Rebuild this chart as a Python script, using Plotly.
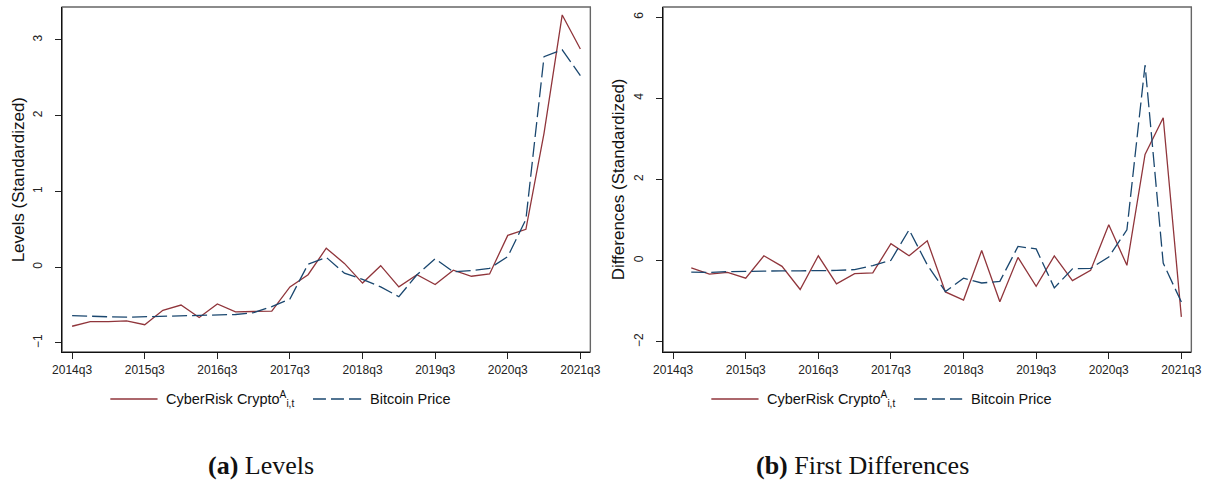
import plotly.graph_objects as go

# Quarterly sample
quarters = ["2014q3", "2014q4", "2015q1", "2015q2", "2015q3", "2015q4", "2016q1", "2016q2",
            "2016q3", "2016q4", "2017q1", "2017q2", "2017q3", "2017q4", "2018q1", "2018q2",
            "2018q3", "2018q4", "2019q1", "2019q2", "2019q3", "2019q4", "2020q1", "2020q2",
            "2020q3", "2020q4", "2021q1", "2021q2", "2021q3"]
tick_quarters = ["2014q3", "2015q3", "2016q3", "2017q3", "2018q3", "2019q3", "2020q3", "2021q3"]

# Standardized levels
levels_cyber = [-0.78, -0.72, -0.72, -0.71, -0.76, -0.57, -0.50, -0.665, -0.485, -0.59, -0.585,
                -0.58, -0.26, -0.10, 0.25, 0.05, -0.21, 0.02, -0.26, -0.10, -0.23, -0.04,
                -0.12, -0.09, 0.42, 0.50, 1.77, 3.33, 2.88]
levels_btc = [-0.64, -0.65, -0.655, -0.66, -0.655, -0.655, -0.65, -0.645, -0.635, -0.625, -0.60,
              -0.52, -0.42, 0.04, 0.13, -0.08, -0.16, -0.26, -0.39, -0.10, 0.11, -0.06,
              -0.045, -0.015, 0.14, 0.63, 2.78, 2.87, 2.53]

# Standardized first differences (start one quarter later)
diff_cyber = [-0.18, -0.33, -0.29, -0.43, 0.12, -0.14, -0.71, 0.12, -0.57, -0.32, -0.30, 0.42,
              0.12, 0.49, -0.77, -0.97, 0.25, -1.01, 0.08, -0.63, 0.12, -0.49, -0.24, 0.885,
              -0.115, 2.62, 3.52, -1.385]
diff_btc = [-0.28, -0.29, -0.27, -0.26, -0.25, -0.25, -0.25, -0.25, -0.24, -0.22, -0.12, 0.01,
            0.76, -0.10, -0.76, -0.43, -0.55, -0.51, 0.35, 0.29, -0.67, -0.20, -0.19, 0.09,
            0.76, 4.82, -0.06, -1.02]

levels_yticks = [-1, 0, 1, 2, 3]
diff_yticks = [-2, 0, 2, 4, 6]

RED = "#90353B"
NAVY = "#1A476F"
DASH = "15px,5px"
SANS = "Liberation Sans, Arial, sans-serif"
SERIF = "Liberation Serif, Times New Roman, serif"

W, H = 1222, 484


def px(x):
    return x / W


def py(y):
    return 1 - y / H


fig = go.Figure()

fig.add_trace(go.Scatter(x=quarters, y=levels_cyber, mode="lines", xaxis="x", yaxis="y",
                         line=dict(color=RED, width=1.3), showlegend=False))
fig.add_trace(go.Scatter(x=quarters, y=levels_btc, mode="lines", xaxis="x", yaxis="y",
                         line=dict(color=NAVY, width=1.3, dash=DASH), showlegend=False))
fig.add_trace(go.Scatter(x=quarters[1:], y=diff_cyber, mode="lines", xaxis="x2", yaxis="y2",
                         line=dict(color=RED, width=1.3), showlegend=False))
fig.add_trace(go.Scatter(x=quarters[1:], y=diff_btc, mode="lines", xaxis="x2", yaxis="y2",
                         line=dict(color=NAVY, width=1.3, dash=DASH), showlegend=False))

frame_top, frame_bot = 7, 352
panels = [(53, 590), (664, 1201)]


def xaxis_cfg(domain, anchor):
    return dict(domain=domain, anchor=anchor, type="category", categoryorder="array",
                categoryarray=quarters, range=[-0.55, 28.55], tickmode="array",
                tickvals=tick_quarters, ticktext=tick_quarters, ticks="outside", ticklen=6,
                tickwidth=1.1, tickcolor="#222", showline=True, linecolor="#111", linewidth=1.4,
                showgrid=False, zeroline=False, tickfont=dict(family=SANS, size=12, color="#222"))


def yaxis_cfg(domain, anchor, rng, tickvals):
    return dict(domain=domain, anchor=anchor, range=rng, tickmode="array", tickvals=tickvals,
                ticks="outside", ticklen=6, tickwidth=1.1, tickcolor="#222", tickangle=-90,
                ticklabelstandoff=8,
                showline=True, linecolor="#111", linewidth=1.4, showgrid=False, zeroline=False,
                tickfont=dict(family=SANS, size=12, color="#222"))


ydom = [py(frame_bot), py(frame_top)]
fig.update_layout(
    xaxis=xaxis_cfg([px(panels[0][0]), px(panels[0][1])], "y"),
    yaxis=yaxis_cfg(ydom, "x", [-1.12, 3.435], levels_yticks),
    xaxis2=xaxis_cfg([px(panels[1][0]), px(panels[1][1])], "y2"),
    yaxis2=yaxis_cfg(ydom, "x2", [-2.25, 6.25], diff_yticks),
)

shapes = []
annotations = []

# Plot-region borders (top/right are lighter than the axis lines)
for xr, yr in (("x domain", "y domain"), ("x2 domain", "y2 domain")):
    shapes.append(dict(type="rect", xref=xr, yref=yr, x0=0, x1=1, y0=0, y1=1,
                       line=dict(color="#666", width=1.4), layer="below"))

# Axis titles (rotated annotations)
for xc, title in ((9, "Levels (Standardized)"), (619, "Differences (Standardized)")):
    annotations.append(dict(x=px(xc), y=py((frame_top + frame_bot) / 2), xref="paper",
                            yref="paper", text=title, textangle=-90, showarrow=False,
                            xanchor="center", yanchor="middle",
                            font=dict(family=SANS, size=17, color="#111")))

# Legends below each panel
legend_y = 399
for off in (0, 611):
    shapes.append(dict(type="line", xref="paper", yref="paper", x0=px(off + 102), x1=px(off + 150),
                       y0=py(legend_y), y1=py(legend_y), line=dict(color=RED, width=1.3)))
    shapes.append(dict(type="line", xref="paper", yref="paper", x0=px(off + 308), x1=px(off + 357),
                       y0=py(legend_y), y1=py(legend_y),
                       line=dict(color=NAVY, width=1.3, dash="13px,5px")))
    annotations.append(dict(x=px(off + 157), y=py(legend_y), xref="paper", yref="paper",
                            text="CyberRisk Crypto<sup>A</sup><sub>i,t</sub>", showarrow=False,
                            xanchor="left", yanchor="middle",
                            font=dict(family=SANS, size=14.5, color="#111")))
    annotations.append(dict(x=px(off + 364), y=py(legend_y), xref="paper", yref="paper",
                            text="Bitcoin Price", showarrow=False, xanchor="left", yanchor="middle",
                            font=dict(family=SANS, size=14.5, color="#111")))

# Panel captions
for xc, cap in ((255, "<b>(a)</b> Levels"), (867, "<b>(b)</b> First Differences")):
    annotations.append(dict(x=px(xc), y=py(465), xref="paper", yref="paper", text=cap,
                            showarrow=False, xanchor="center", yanchor="middle",
                            font=dict(family=SERIF, size=26, color="#111")))

fig.update_layout(shapes=shapes, annotations=annotations, width=W, height=H,
                  margin=dict(l=0, r=0, t=0, b=0), paper_bgcolor="white", plot_bgcolor="white",
                  showlegend=False)

fig.write_html("out.html")
